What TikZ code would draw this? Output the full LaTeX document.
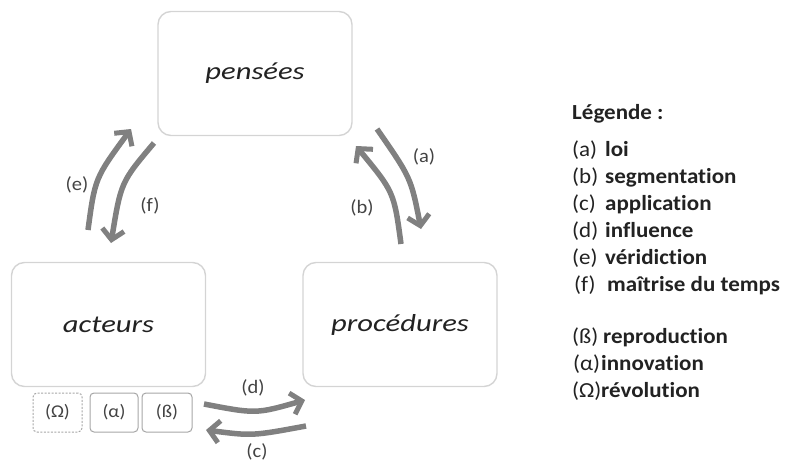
\documentclass[tikz,border=0pt]{standalone}
\usepackage{fontspec}
\setmainfont{Carlito}[Ligatures=NoCommon]
\newfontfamily\boxfont{Carlito}[FakeStretch=1.25, Ligatures=NoCommon]
\newfontfamily\legfont{Carlito}[FakeStretch=1.07, Ligatures=NoCommon]
\newfontfamily\labfont{Carlito}[FakeStretch=1.08, Ligatures=NoCommon]
\usetikzlibrary{arrows.meta}
\definecolor{boxline}{HTML}{D4D4D4}
\definecolor{smallline}{HTML}{A6A6A6}
\definecolor{arrowgray}{HTML}{808080}
\definecolor{txt}{HTML}{222222}
\tikzset{
  bigbox/.style={draw=boxline, line width=1.4pt, rounded corners=13pt, minimum width=194pt, minimum height=124pt, inner sep=0pt, font=\boxfont\fontsize{24.5}{28}\selectfont\itshape, text=txt},
  smallbox/.style={draw=smallline, line width=1pt, rounded corners=4pt, minimum height=39pt, inner sep=0pt, font=\labfont\fontsize{18}{20}\selectfont, text=txt!85},
  flow/.style={draw=arrowgray, line width=5.5pt, -{Straight Barb[length=10pt,width=22pt,line width=5pt]}},
  lab/.style={font=\labfont\fontsize{19}{22}\selectfont, text=txt!85, inner sep=0pt},
  legline/.style={anchor=base west, font=\legfont\fontsize{21.5}{24}\selectfont, text=txt, inner sep=0pt},
  legword/.style={anchor=base west, font=\legfont\fontsize{21.5}{24}\selectfont\bfseries, text=txt, inner sep=0pt}
}
\begin{document}
\begin{tikzpicture}[x=1pt,y=-1pt]
\useasboundingbox (0,0) rectangle (786,468);
% main boxes
\node[bigbox] (pensees) at (255,73.5) {pensées};
\node[bigbox] (acteurs) at (108.5,324.5) {acteurs};
\node[bigbox] (procedures) at (400,324.5) {procédures};
% small boxes
\node[smallbox, dash pattern=on 2pt off 1.5pt, minimum width=49pt] (omega) at (57.5,412.5) {(Ω)};
\node[smallbox, minimum width=48pt] (alpha) at (114,412.5) {(α)};
\node[smallbox, minimum width=50pt] (beta) at (167,412.5) {(ß)};
% arrow end points
\coordinate (eS) at (88,230);
\coordinate (eE) at (131,129);
\coordinate (fS) at (154,143);
\coordinate (fE) at (111,243);
\coordinate (aS) at (377,129);
\coordinate (aE) at (421,229);
\coordinate (bS) at (401,244);
\coordinate (bE) at (356,146);
\coordinate (dS) at (204,404);
\coordinate (dE) at (305,400);
\coordinate (cS) at (306,426);
\coordinate (cE) at (206,430);
% arrows
\draw[flow] (eS) .. controls (95,178) .. (eE);
\draw[flow] (fS) .. controls (121,182) .. (fE);
\draw[flow] (aS) .. controls (411,178) .. (aE);
\draw[flow] (bS) .. controls (394,192) .. (bE);
\draw[flow] (dS) .. controls (256,414) .. (dE);
\draw[flow] (cS) .. controls (252,436) .. (cE);
% arrow labels
\node[lab] (la) at (424,157) {(a)};
\node[lab] (lb) at (362,208) {(b)};
\node[lab] (le) at (77,185) {(e)};
\node[lab] (lf) at (150,206) {(f)};
\node[lab] (ld) at (253,388) {(d)};
\node[lab] (lc) at (257,452) {(c)};
% legend
\node[legword] (leg) at (572,120) {Légende :};
\node[legline] (k1) at (572,156) {(a)};  \node[legword] (w1) at (605,156) {loi};
\node[legline] (k2) at (572,183) {(b)};  \node[legword] (w2) at (605,183) {segmentation};
\node[legline] (k3) at (572,210) {(c)};  \node[legword] (w3) at (605,210) {application};
\node[legline] (k4) at (572,237) {(d)};  \node[legword] (w4) at (605,237) {influence};
\node[legline] (k5) at (572,264) {(e)};  \node[legword] (w5) at (605,264) {véridiction};
\node[legline] (k6) at (574,291) {(f)};  \node[legword] (w6) at (607,291) {maîtrise du temps};
\node[legline] (k7) at (572,343) {(ß)};  \node[legword] (w7) at (603,343) {reproduction};
\node[legline] (k8) at (573,370) {(α)};  \node[legword] (w8) at (601,370) {innovation};
\node[legline] (k9) at (572,397) {(Ω)};  \node[legword] (w9) at (601,397) {révolution};
\end{tikzpicture}
\end{document}
